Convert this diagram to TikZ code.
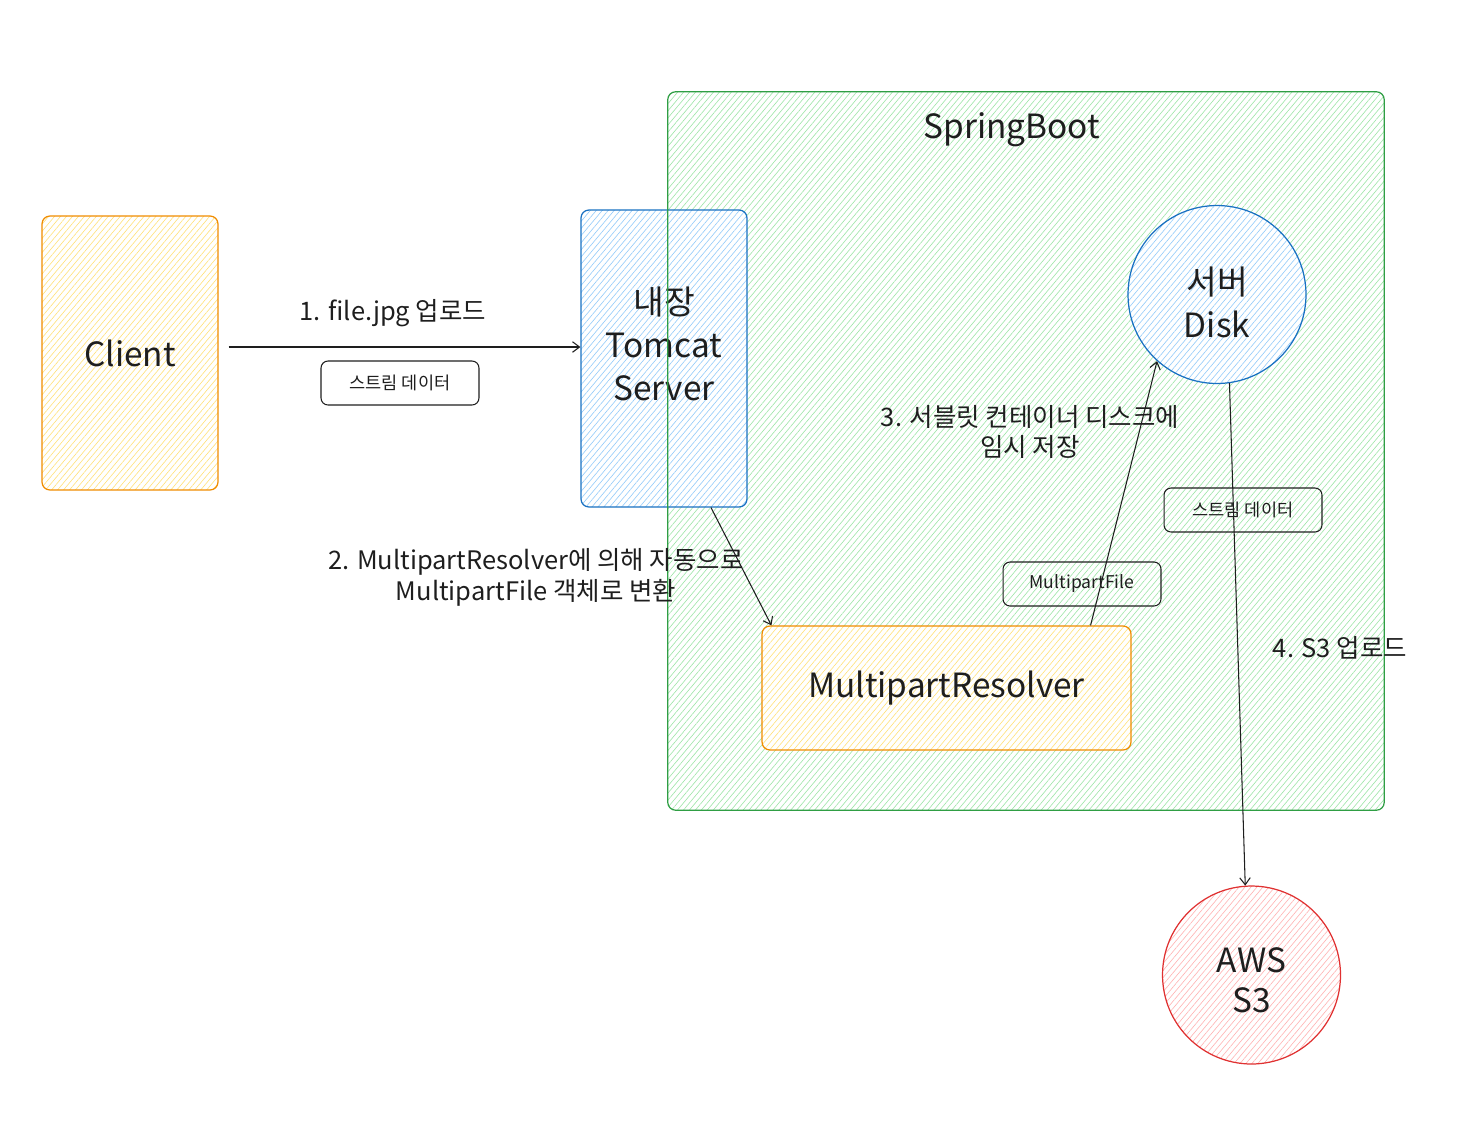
\documentclass[tikz,border=0pt]{standalone}
\usepackage{fontspec}
\setmainfont{Noto Sans CJK KR}
\usetikzlibrary{positioning,arrows.meta,calc,patterns.meta}

\definecolor{ink}{HTML}{1E1E1E}
\definecolor{orgline}{HTML}{F08C00}
\definecolor{orgfill}{HTML}{FFE27A}
\definecolor{bluline}{HTML}{1971C2}
\definecolor{blufill}{HTML}{94CCFA}
\definecolor{grnline}{HTML}{2F9E44}
\definecolor{grnfill}{HTML}{9EE6A8}
\definecolor{redline}{HTML}{E03131}
\definecolor{redfill}{HTML}{FFB3B3}

\begin{document}
\begin{tikzpicture}[
  x=0.02cm, y=-0.02cm,
  >={Straight Barb[length=4pt,width=6pt]},
  every node/.style={text=ink, align=center},
  big/.style={font=\fontsize{19}{24.5}\selectfont},
  lbl/.style={font=\fontsize{14.5}{17.6}\selectfont},
  hatch/.style 2 args={draw=#1, line width=0.7pt, preaction={fill=white},
    pattern={Lines[angle=50,distance=2.6pt,line width=0.35pt]}, pattern color=#2},
  card/.style={rounded corners=4.5pt, inner sep=0pt},
  ball/.style={circle, inner sep=0pt, minimum size=3.56cm},
  tag/.style={draw=ink, rounded corners=4pt, minimum width=3.16cm, minimum height=0.88cm,
    font=\fontsize{10}{12}\selectfont, line width=0.6pt},
  flow/.style={->, draw=ink, line width=0.6pt}
]
\useasboundingbox (0,0) rectangle (1484,1120);

% SpringBoot container
\node[card, preaction={fill=white}, pattern={Lines[angle=50,distance=2.6pt,line width=0.35pt]},
  pattern color=grnfill, minimum width=14.32cm, minimum height=14.36cm] (spring) at (1026,451) {};
\node[big] (springtitle) at (1012,130) {SpringBoot};

% nodes
\node[card, hatch={orgline}{orgfill}, minimum width=3.52cm, minimum height=5.48cm, big] (client) at (130,353) {Client};
\node[card, hatch={bluline}{blufill}, minimum width=3.32cm, minimum height=5.94cm,
  label={[big, yshift=8.5pt]center:{내장\\Tomcat\\Server}}] (tomcat) at (664,358.5) {};
\draw[grnline, line width=0.7pt, rounded corners=4.5pt] (spring.north west) rectangle (spring.south east);
\node[ball, hatch={bluline}{blufill},
  label={[big, yshift=-4.5pt]center:{서버\\Disk}}] (disk) at (1217,294.5) {};
\node[card, hatch={orgline}{orgfill}, minimum width=7.38cm, minimum height=2.48cm, big] (resolver) at (946.5,688) {MultipartResolver};
\node[ball, hatch={redline}{redfill},
  label={[font=\fontsize{19}{22.8}\selectfont, yshift=-3pt]center:{AWS\\S3}}] (aws) at (1251.5,975) {};

% data tags
\node[tag] (stream1) at (400,383) {스트림 데이터};
\node[tag] (mpfile) at (1082,584) {MultipartFile};
\node[tag] (stream2) at (1243,510) {스트림 데이터};

% flows
\draw[flow] ($(client.east)+(10,-6)$) -- ($(tomcat.west)+(0,-11.5)$);
\draw[flow] ($(tomcat.south)+(47,0)$) -- ($(resolver.north west)+(10,0)$);
\draw[flow] ($(resolver.north east)+(-41,0)$) -- (disk.228);
\draw[flow] (disk.-82) -- (aws.94);

% step labels
\node[lbl] (step1) at (393,313) {1. file.jpg 업로드};
\node[lbl] (step2) at (536,577) {2. MultipartResolver에 의해 자동으로\\MultipartFile 객체로 변환};
\node[lbl] (step3) at (1030,432) {3. 서블릿 컨테이너 디스크에\\임시 저장};
\node[lbl] (step4) at (1340,648) {4. S3 업로드};
\end{tikzpicture}
\end{document}
